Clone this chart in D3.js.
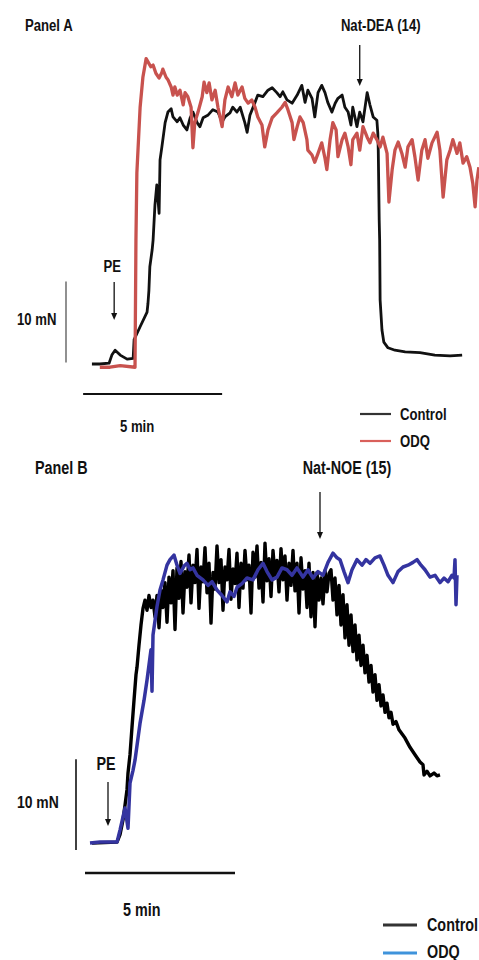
<!DOCTYPE html>
<html>
<head>
<meta charset="utf-8">
<script src="https://cdn.jsdelivr.net/npm/d3@7"></script>
<style>
  html, body { margin: 0; padding: 0; background: #fff; }
  text { font-family: "Liberation Sans", Arial, sans-serif; font-weight: bold; fill: #111; }
</style>
</head>
<body>
<div id="chart"></div>
<script>
// time in seconds, force in mN (relative to resting tone)
var ctrlA = [[2,0],[19,0],[39,0.1],[45,1.1],[52,1.7],[63,1.1],[78,0.6],[91,0.7],[93,3.0],[106,4.6],[121,6.4],[123,7.5],[125,9.1],[127,12.0],[132,14.1],[134,15.3],[138,19.6],[142,22.1],[147,18.6],[149,25.2],[153,26.8],[160,29.8],[166,31.1],[173,31.5],[177,30.5],[186,29.9],[192,30.4],[199,29.5],[207,28.9],[214,30.4],[220,31.1],[229,29.8],[235,29.3],[242,30.4],[252,30.7],[263,31.4],[274,31.1],[283,29.9],[289,30.5],[300,31.0],[306,31.7],[315,31.1],[322,31.7],[332,29.8],[337,28.6],[343,30.7],[354,32.3],[360,33.2],[371,33.0],[382,33.8],[391,34.1],[401,33.5],[408,33.0],[414,33.6],[423,32.6],[434,32.2],[445,33.2],[455,34.4],[462,32.3],[468,33.8],[477,32.8],[483,30.5],[490,33.5],[498,34.4],[505,33.5],[511,32.3],[520,31.1],[527,32.2],[533,32.8],[542,33.2],[548,31.7],[555,31.1],[561,29.5],[565,31.7],[574,29.3],[580,31.1],[587,29.9],[596,33.5],[602,32.0],[609,30.5],[617,30.1],[619,28.5],[620,26.4],[622,17.8],[623,15.3],[624,7.9],[628,4.2],[632,2.7],[641,2.0],[656,1.7],[678,1.5],[710,1.4],[742,1.1],[775,1.0],[801,1.1]];

var odqA = [[19,-0.4],[41,-0.4],[63,-0.2],[95,-0.4],[97,15.3],[99,23.6],[106,31.7],[112,35.4],[119,37.7],[123,37.3],[129,36.7],[134,36.9],[140,35.9],[147,35.3],[153,36.0],[155,36.4],[162,35.4],[166,35.1],[173,34.2],[177,33.2],[181,34.2],[186,33.2],[192,33.8],[199,32.0],[203,33.5],[209,33.0],[216,31.7],[220,26.7],[224,29.8],[231,31.1],[240,33.0],[244,34.8],[250,33.5],[255,34.7],[261,32.6],[268,33.8],[274,31.7],[283,29.3],[289,32.6],[296,34.2],[304,33.0],[311,34.7],[317,33.2],[326,34.2],[332,32.8],[339,32.2],[347,32.6],[354,31.7],[360,30.5],[369,29.5],[375,26.8],[382,28.9],[391,30.4],[401,31.0],[412,31.7],[419,32.3],[425,31.4],[434,29.8],[438,27.7],[445,29.3],[451,30.5],[458,29.8],[466,27.7],[468,26.4],[477,25.8],[483,24.9],[490,26.0],[498,27.3],[505,25.4],[509,24.0],[516,27.7],[522,29.8],[529,28.9],[533,25.6],[542,27.7],[548,28.5],[555,26.8],[561,24.6],[565,27.7],[574,28.5],[580,26.4],[587,29.3],[596,28.0],[602,27.3],[609,28.5],[617,27.7],[624,26.8],[630,28.0],[639,26.0],[643,20.0],[650,24.0],[656,26.4],[663,27.4],[671,26.0],[678,24.3],[684,26.8],[693,27.7],[699,25.6],[706,22.7],[714,26.4],[721,27.7],[727,25.4],[736,27.3],[747,28.6],[753,26.4],[760,20.6],[768,25.2],[775,26.4],[781,27.7],[790,26.0],[796,27.3],[803,24.8],[811,25.6],[818,24.3],[824,22.3],[829,19.4],[833,22.7],[837,24.3]];

var ctrlB = [[4,0],[54,0.1],[60,0.9],[66,2.5],[70,4.1],[74,5.8],[76,7.6],[80,9.6],[84,12.6],[88,15.5],[92,18.3],[94,19.1],[98,21.5],[102,23.7],[106,25.5],[110,26.4],[114,25.3],[118,26.9],[122,25.6],[126,26.4],[130,24.6],[134,26.9],[138,23.4],[142,27.5],[146,25.6],[150,28.3],[154,24.0],[158,28.9],[162,26.1],[166,29.6],[170,23.2],[174,29.9],[178,26.6],[182,30.6],[186,25.0],[190,29.5],[194,27.8],[198,31.3],[202,26.1],[206,30.2],[210,28.3],[214,31.9],[218,25.5],[222,30.0],[226,28.4],[230,32.1],[234,27.2],[238,30.4],[242,23.9],[246,29.4],[250,27.6],[254,32.3],[258,28.3],[262,30.8],[266,25.3],[270,30.0],[274,28.6],[278,31.9],[282,26.5],[286,29.8],[290,28.2],[294,31.5],[298,25.6],[302,30.4],[306,27.7],[310,31.8],[314,28.6],[318,30.2],[322,25.0],[326,31.6],[330,28.9],[334,32.3],[338,27.7],[342,30.5],[346,26.2],[350,32.6],[354,28.5],[358,30.9],[362,26.8],[366,31.8],[370,29.0],[374,30.7],[378,27.3],[382,32.0],[386,28.6],[390,31.2],[394,26.4],[398,30.4],[402,28.0],[406,31.8],[410,27.4],[414,30.4],[418,25.0],[422,31.0],[426,27.6],[430,29.6],[434,25.6],[438,30.4],[442,24.6],[446,29.4],[450,23.5],[454,29.4],[458,26.4],[462,28.8],[466,26.0],[470,29.6],[474,27.3],[478,29.3],[482,29.7],[486,26.4],[490,28.8],[494,24.8],[498,28.0],[502,23.7],[506,27.0],[510,22.3],[514,25.9],[518,21.5],[522,24.8],[526,20.8],[530,23.7],[534,19.9],[538,22.6],[542,19.3],[546,21.5],[550,18.5],[554,20.4],[558,17.5],[562,19.3],[566,16.4],[570,18.3],[574,15.5],[578,17.2],[582,14.9],[586,16.1],[590,14.2],[594,15.2],[598,13.6],[602,14.2],[606,12.9],[612,13.2],[618,12.3],[630,11.4],[640,10.4],[650,9.6],[660,8.8],[666,8.5],[668,7.4],[674,7.8],[680,7.3],[688,7.6],[694,7.3],[700,7.4]];

var odqB = [[0,0],[20,0.1],[40,0.1],[54,0.1],[60,1.4],[70,3.8],[76,1.6],[80,6.5],[86,7.9],[90,9.0],[100,13.0],[108,15.5],[114,17.7],[120,20.2],[122,21.0],[124,16.5],[126,22.6],[134,25.7],[140,27.5],[146,28.6],[154,30.2],[160,30.8],[168,31.3],[174,30.2],[180,29.3],[188,30.1],[194,30.4],[200,29.7],[206,29.9],[214,29.1],[226,28.6],[236,28.0],[244,28.4],[254,27.5],[264,26.9],[274,26.2],[280,27.3],[288,26.8],[294,27.8],[304,28.2],[314,28.8],[326,28.6],[336,29.7],[346,30.4],[354,29.5],[364,28.6],[374,28.9],[384,29.9],[394,29.7],[404,29.1],[414,29.9],[426,28.9],[436,29.7],[446,28.8],[456,29.5],[466,29.1],[476,30.5],[486,31.5],[494,31.0],[500,30.8],[508,29.5],[516,28.3],[524,29.7],[534,30.8],[544,30.2],[552,30.8],[560,30.4],[570,31.0],[580,31.2],[588,30.2],[596,29.1],[606,28.3],[616,29.5],[626,30.0],[636,30.2],[646,30.5],[654,30.8],[662,30.2],[670,29.7],[680,28.9],[690,29.1],[700,28.3],[708,28.8],[716,28.4],[724,29.1],[728,28.8],[730,30.8],[732,25.9],[734,29.1]];

// drug additions (s)
var eventsA = [{ label: 'PE', t: 50 }, { label: 'Nat-DEA (14)', t: 580 }];
var eventsB = [{ label: 'PE', t: 36 }, { label: 'Nat-NOE (15)', t: 460 }];

var seriesNames = ['Control', 'ODQ'];
var scaleTime = 300;   // 5 min bar
var scaleForce = 10;   // 10 mN bar

var width = 479, height = 960;

var svg = d3.select('#chart')
  .append('svg')
  .attr('width', width)
  .attr('height', height);

// panel A: 139 px per 5 min, 81 px per 10 mN
var xA = d3.scaleLinear().domain([0, scaleTime]).range([91, 230]);
var yA = d3.scaleLinear().domain([0, scaleForce]).range([364, 283]);
// panel B: 150 px per 5 min, 92 px per 10 mN
var xB = d3.scaleLinear().domain([0, scaleTime]).range([90, 240]);
var yB = d3.scaleLinear().domain([0, scaleForce]).range([843, 751]);

var drawTrace = function(data, x, y, color, w) {
  var line = d3.line()
    .x(function(d) { return x(d[0]); })
    .y(function(d) { return y(d[1]); });
  svg.append('path')
    .datum(data)
    .attr('d', line)
    .attr('fill', 'none')
    .attr('stroke', color)
    .attr('stroke-width', w)
    .attr('stroke-linejoin', 'round');
};

var drawArrow = function(x0, y0, y1) {
  svg.append('line')
    .attr('x1', x0).attr('x2', x0)
    .attr('y1', y0).attr('y2', y1 - 5)
    .attr('stroke', '#111')
    .attr('stroke-width', 1.3);
  svg.append('path')
    .attr('d', 'M' + (x0 - 3) + ',' + (y1 - 7) + 'L' + (x0 + 3) + ',' + (y1 - 7) + 'L' + x0 + ',' + y1 + 'Z')
    .attr('fill', '#111');
};

// no narrow font installed, so squeeze the bold sans horizontally
var label = function(txt, x, y, size, anchor) {
  svg.append('text')
    .attr('transform', 'translate(' + x + ',' + y + ') scale(0.82,1)')
    .attr('font-size', size)
    .attr('text-anchor', anchor || 'start')
    .text(txt);
};

// ---- Panel A ----
label('Panel A', 25, 31, 16);

drawTrace(ctrlA, xA, yA, '#111', 2.8);
drawTrace(odqA, xA, yA, '#c8524e', 3.3);

label(eventsA[0].label, xA(eventsA[0].t) - 2, 272, 16, 'middle');
drawArrow(xA(eventsA[0].t), 282, 320);
label(eventsA[1].label, xA(eventsA[1].t) + 21, 31, 16, 'middle');
drawArrow(xA(eventsA[1].t), 45, 86);

// scale bars
svg.append('line')
  .attr('x1', 66).attr('x2', 66)
  .attr('y1', yA(scaleForce + 0.2)).attr('y2', yA(0.2))
  .attr('stroke', '#555').attr('stroke-width', 1.3);
label(scaleForce + ' mN', 17, 325, 16);
svg.append('line')
  .attr('x1', xA(-17)).attr('x2', xA(scaleTime - 17))
  .attr('y1', 394).attr('y2', 394)
  .attr('stroke', '#111').attr('stroke-width', 2);
label('5 min', 120, 432, 16);

// legend A
var legA = [{ name: seriesNames[0], color: '#333', y: 414 }, { name: seriesNames[1], color: '#d9605b', y: 441 }];
legA.forEach(function(d) {
  svg.append('line')
    .attr('x1', 360).attr('x2', 391)
    .attr('y1', d.y).attr('y2', d.y)
    .attr('stroke', d.color).attr('stroke-width', 2.2);
  label(d.name, 400, d.y + 6, 16);
});

// ---- Panel B ----
label('Panel B', 35, 474, 17.5);

drawTrace(ctrlB, xB, yB, '#000', 3.4);
drawTrace(odqB, xB, yB, '#3434a0', 3.5);

label(eventsB[0].label, xB(eventsB[0].t) - 2, 770, 17.5, 'middle');
drawArrow(xB(eventsB[0].t), 782, 826);
label(eventsB[1].label, xB(eventsB[1].t) + 27, 474, 17.5, 'middle');
drawArrow(xB(eventsB[1].t), 492, 539);

svg.append('line')
  .attr('x1', 76).attr('x2', 76)
  .attr('y1', yB(scaleForce - 0.9)).attr('y2', yB(-0.75))
  .attr('stroke', '#111').attr('stroke-width', 1.6);
label(scaleForce + ' mN', 17, 808, 17);
svg.append('line')
  .attr('x1', xB(-10)).attr('x2', xB(scaleTime - 10))
  .attr('y1', 873).attr('y2', 873)
  .attr('stroke', '#111').attr('stroke-width', 2.4);
label('5 min', 123, 916, 17.5);

// legend B
var legB = [{ name: seriesNames[0], color: '#333', y: 925, ty: 931 }, { name: seriesNames[1], color: '#3f93db', y: 953, ty: 958 }];
legB.forEach(function(d) {
  svg.append('line')
    .attr('x1', 383).attr('x2', 417)
    .attr('y1', d.y).attr('y2', d.y)
    .attr('stroke', d.color).attr('stroke-width', 3);
  label(d.name, 427, d.ty, 17.5);
});
</script>
</body>
</html>
